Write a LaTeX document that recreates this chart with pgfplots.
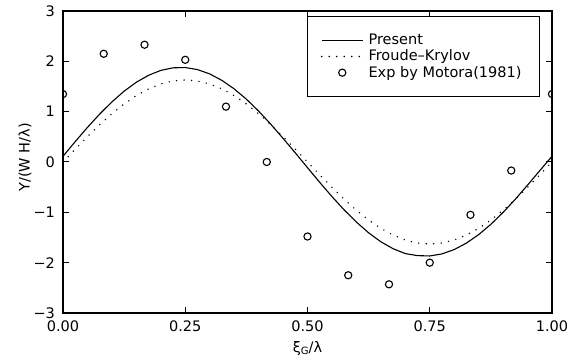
\documentclass[border=0pt]{standalone}
\usepackage{fontspec}
\setmainfont{DejaVu Sans}
\usepackage{pgfplots}
\pgfplotsset{compat=1.18}
\pgfplotsset{
  longline/.style={legend image code/.code={\draw[##1] (0pt,0pt) -- (41pt,0pt);}},
  longmark/.style={legend image code/.code={\draw[mark repeat=2,mark phase=2,##1] plot coordinates {(0pt,0pt) (20.5pt,0pt) (41pt,0pt)};}},
}
\begin{document}
\fontsize{14.5}{17}\selectfont
\begin{tikzpicture}
\begin{axis}[
  scale only axis, width=489pt, height=302pt,
  xmin=0, xmax=1, ymin=-3, ymax=3,
  xtick={0,0.25,0.5,0.75,1}, xticklabels={0.00,0.25,0.50,0.75,1.00},
  ytick={-3,-2,-1,0,1,2,3}, yticklabels={−3,−2,−1,0,1,2,3},
  tick align=inside, major tick length=6pt, minor tick num=0,
  every tick/.style={black, line width=1pt},
  axis line style={line width=1.3pt},
  xticklabel style={yshift=-3pt},
  yticklabel style={xshift=-3pt},
  xlabel={ξ\raisebox{-0.35ex}{\fontsize{10}{10}\selectfont G}/λ},
  ylabel={Y/(W H/λ)},
  xlabel style={at={(axis description cs:0.5,-0.116)}, anchor=center},
  ylabel style={at={(axis description cs:-0.0777,0.515)}, anchor=center},
  clip marker paths=true,
  legend cell align=left,
  legend style={at={(0.9755,0.983)}, anchor=north east, draw=black, line width=1pt,
    inner xsep=13pt, inner ysep=16pt, row sep=0pt,
    nodes={inner ysep=1.5pt, inner xsep=5pt, line width=0.8pt}},
]
\addplot[black, line width=1.1pt, longline] coordinates {
(0.000,0.113) (0.025,0.405) (0.050,0.687) (0.075,0.952) (0.100,1.194)
(0.125,1.407) (0.150,1.585) (0.175,1.723) (0.200,1.820) (0.225,1.871)
(0.250,1.877) (0.275,1.836) (0.300,1.750) (0.325,1.621) (0.350,1.453)
(0.375,1.248) (0.400,1.012) (0.425,0.750) (0.450,0.469) (0.475,0.182)
(0.500,-0.113) (0.525,-0.405) (0.550,-0.687) (0.575,-0.952) (0.600,-1.194)
(0.625,-1.407) (0.650,-1.585) (0.675,-1.723) (0.700,-1.820) (0.725,-1.860)
(0.750,-1.867) (0.775,-1.826) (0.800,-1.740) (0.825,-1.611) (0.850,-1.443)
(0.875,-1.238) (0.900,-1.002) (0.925,-0.740) (0.950,-0.459) (0.975,-0.172)
(1.000,0.113)};
\addlegendentry{Present}
\addplot[black, line width=1.6pt, line cap=round, dash pattern=on 0pt off 7.5pt, longline] coordinates {
(0.000,0.000) (0.025,0.255) (0.050,0.504) (0.075,0.740) (0.100,0.958)
(0.125,1.153) (0.150,1.319) (0.175,1.452) (0.200,1.550) (0.225,1.610)
(0.250,1.630) (0.275,1.610) (0.300,1.550) (0.325,1.452) (0.350,1.319)
(0.375,1.153) (0.400,0.958) (0.425,0.740) (0.450,0.504) (0.475,0.255)
(0.500,0.000) (0.525,-0.255) (0.550,-0.504) (0.575,-0.740) (0.600,-0.958)
(0.625,-1.153) (0.650,-1.319) (0.675,-1.452) (0.700,-1.550) (0.725,-1.610)
(0.750,-1.630) (0.775,-1.610) (0.800,-1.550) (0.825,-1.452) (0.850,-1.319)
(0.875,-1.153) (0.900,-0.958) (0.925,-0.740) (0.950,-0.504) (0.975,-0.255)
(1.000,0.000)};
\addlegendentry{Froude–Krylov}
\addplot[black, only marks, mark=o, mark size=3.6pt, mark options={line width=1.1pt}, longmark] coordinates {
(0.0000,1.35) (0.0833,2.15) (0.1667,2.33) (0.2500,2.03) (0.3333,1.10)
(0.4167,0.00) (0.5000,-1.48) (0.5833,-2.25) (0.6667,-2.43) (0.7500,-2.00)
(0.8333,-1.05) (0.9167,-0.17) (1.0000,1.35)};
\addlegendentry{Exp by Motora(1981)}
\end{axis}
\path[use as bounding box] ([xshift=-63pt,yshift=-50pt]current axis.south west) rectangle ([xshift=27pt,yshift=11pt]current axis.north east);
\end{tikzpicture}
\end{document}
